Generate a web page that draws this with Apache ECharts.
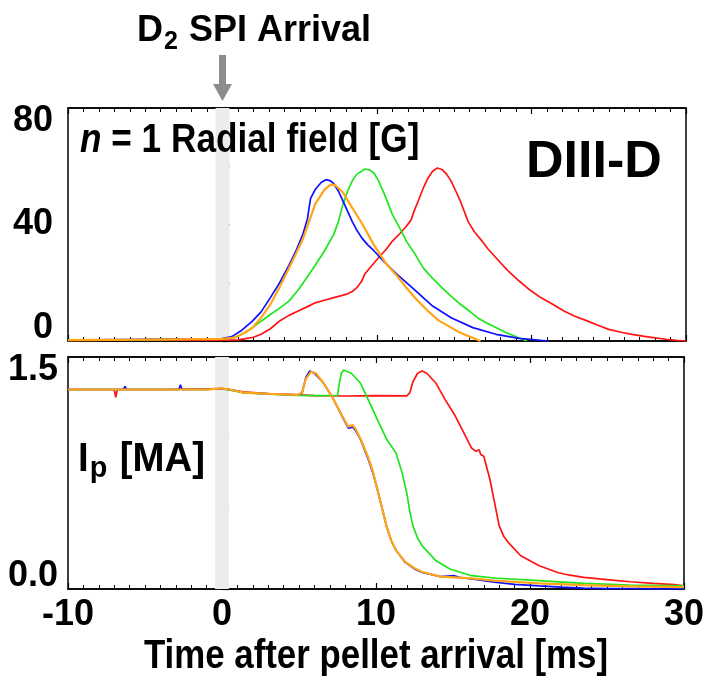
<!DOCTYPE html>
<html><head><meta charset="utf-8">
<script src="https://cdn.jsdelivr.net/npm/echarts@6/dist/echarts.min.js"></script>
<style>html,body{margin:0;padding:0;background:#fff}#c{width:707px;height:690px}</style>
</head><body><div id="c"></div>
<script>
// ---------- axes ----------
const xTicks = [-10, 0, 10, 20, 30];
const brTicks = [0, 20, 40, 60, 80];
const ipTicks = [0, 0.5, 1.0, 1.5];
const bandT = [-0.45, 0.45];   // gray band marking pellet arrival
const xTitle = 'Time after pellet arrival [ms]';

// ---------- n=1 radial field [G] ----------
const brBlueT = [-10, -5, 0, 0.6, 1.2, 1.95, 2.5, 3.1, 3.7, 4.3, 4.8, 5.2, 5.5, 5.7, 6.0, 6.4, 6.7, 7.0, 7.2, 7.5, 7.8, 8.1, 8.4, 8.7, 9.0, 9.4, 9.8, 10.5, 11.3, 12.4, 13.6, 14.8, 16.2, 17.7, 19.2, 20.6, 21.1];
const brBlue  = [0.3, 0.6, 0.8, 1.5, 3.5, 6.9, 10, 14.9, 20, 26, 31.5, 36.6, 42, 49, 52, 54.5, 55.4, 55, 54, 51.5, 48, 44.5, 41, 38, 35.5, 33, 31, 27, 22.9, 17.7, 12, 8, 4.6, 2.3, 0.9, 0.2, 0];

const brOrangeT = [-10, -5, 0, 0.8, 1.5, 1.95, 2.5, 3.1, 3.7, 4.3, 4.8, 5.2, 5.6, 6.0, 6.6, 7.0, 7.3, 7.8, 8.4, 9.0, 9.8, 10.6, 11.3, 11.9, 12.6, 13.3, 14.0, 14.8, 15.4, 15.9, 16.7];
const brOrange  = [0.3, 0.5, 0.7, 1.2, 3, 4.6, 8, 12.6, 18.5, 25, 30.5, 35, 41, 47, 52, 53.7, 53.5, 51, 45.7, 40.6, 33, 26.5, 22.3, 18.3, 14, 10.3, 7, 4.6, 2.8, 1.7, 0];

const brGreenT = [-10, -5, 0, 0.8, 1.3, 1.95, 2.5, 3.1, 3.7, 4.3, 4.9, 5.45, 6.0, 6.6, 7.2, 7.5, 7.8, 8.1, 8.4, 8.7, 9.0, 9.2, 9.5, 9.8, 10.1, 10.4, 10.7, 11.0, 11.5, 11.9, 12.5, 13.0, 13.6, 14.2, 14.8, 15.4, 16.0, 16.5, 17.1, 17.7, 18.3, 18.9, 19.7];
const brGreen  = [0.3, 0.5, 0.8, 1.3, 2.5, 4.6, 6.8, 9.1, 11.3, 13.7, 17.5, 21.7, 26, 30.9, 36.6, 41, 47, 51.5, 55, 57.3, 58.3, 59, 58.8, 57.7, 55, 51.4, 47.5, 43.4, 38.5, 34.3, 29.5, 25, 21.5, 18.3, 15.3, 12.6, 10.2, 8, 6.2, 4.6, 3, 1.7, 0];

const brRedT = [-10, -5, 0, 1.0, 1.5, 2.0, 2.5, 3.1, 3.7, 4.3, 4.9, 5.5, 6.0, 6.6, 7.2, 7.7, 8.1, 8.4, 8.7, 9.0, 9.2, 9.6, 10.1, 10.6, 11.0, 11.5, 11.9, 12.2, 12.4, 12.7, 13.0, 13.3, 13.6, 13.9, 14.2, 14.5, 14.8, 15.1, 15.4, 15.9, 16.3, 16.8, 17.2, 17.7, 18.4, 19.2, 19.9, 20.6, 21.4, 22.1, 22.8, 23.6, 24.3, 25.0, 25.8, 26.5, 27.3, 28.0, 28.7, 29.4, 30.0];
const brRed  = [0.2, 0.3, 0.3, 0.4, 0.8, 1.3, 2.3, 4.2, 6.9, 8.8, 10.3, 11.8, 13.1, 14, 14.9, 15.6, 16.2, 17, 18.3, 20.5, 22.9, 25.5, 28.6, 31.5, 34.3, 37, 39.4, 41.5, 44.6, 48.5, 52.6, 56, 58.3, 59.4, 58.9, 57.3, 54.9, 51.5, 48, 41, 37.5, 34.3, 31.5, 28.6, 24.5, 20.6, 17.5, 14.9, 12.5, 10.3, 8.5, 6.9, 5.4, 4, 3, 2.3, 1.6, 1.1, 0.6, 0.2, 0];

// ---------- plasma current Ip [MA] ----------
const ipBlueT = [-10, -8, -6.4, -6.3, -6.2, -4, -2.8, -2.7, -2.6, -1, 0, 0.5, 1.4, 3.1, 4.9, 5.2, 5.45, 5.7, 6.0, 6.6, 7.2, 7.8, 8.2, 8.5, 8.7, 9.0, 9.5, 9.8, 10.1, 10.4, 10.7, 11.0, 11.3, 11.9, 12.5, 13.0, 14.2, 15.1, 15.4, 16.2, 17.7, 19.0, 20.6, 22.0, 23.5, 25.0, 26.5, 28.0, 30.0];
const ipBlue  = [1.29, 1.29, 1.29, 1.31, 1.29, 1.29, 1.29, 1.32, 1.29, 1.29, 1.295, 1.29, 1.27, 1.262, 1.255, 1.266, 1.37, 1.41, 1.395, 1.33, 1.234, 1.116, 1.04, 1.047, 1.02, 0.966, 0.837, 0.75, 0.64, 0.52, 0.40, 0.31, 0.25, 0.172, 0.13, 0.107, 0.08, 0.086, 0.075, 0.065, 0.045, 0.03, 0.02, 0.012, 0.006, 0.003, 0.002, 0.001, 0.001];

const ipOrangeT = [-10, -5, -1, 0, 0.5, 1.4, 3.1, 4.9, 5.2, 5.45, 5.8, 6.1, 6.6, 7.2, 7.8, 8.2, 8.5, 8.7, 9.0, 9.5, 9.8, 10.1, 10.4, 10.7, 11.0, 11.3, 11.9, 12.5, 13.0, 14.2, 16.2, 17.7, 20.6, 23.5, 26.5, 30.0];
const ipOrange  = [1.29, 1.29, 1.29, 1.297, 1.29, 1.27, 1.262, 1.255, 1.27, 1.36, 1.405, 1.395, 1.33, 1.234, 1.12, 1.05, 1.06, 1.03, 0.97, 0.85, 0.76, 0.64, 0.52, 0.40, 0.31, 0.25, 0.175, 0.135, 0.11, 0.08, 0.069, 0.054, 0.036, 0.025, 0.017, 0.012];

const ipGreenT = [-10, -5, -1, 0, 1.4, 3.1, 4.9, 6.0, 7.0, 7.5, 7.6, 7.75, 7.9, 8.4, 9.0, 9.5, 10.1, 10.7, 11.3, 11.7, 12.0, 12.2, 12.4, 12.7, 13.0, 13.9, 14.8, 16.2, 17.7, 20.6, 23.5, 26.5, 30.0];
const ipGreen  = [1.29, 1.29, 1.29, 1.295, 1.27, 1.26, 1.252, 1.25, 1.25, 1.252, 1.32, 1.395, 1.416, 1.395, 1.33, 1.223, 1.094, 0.966, 0.88, 0.75, 0.62, 0.5, 0.408, 0.33, 0.279, 0.182, 0.129, 0.086, 0.071, 0.054, 0.036, 0.026, 0.02];

const ipRedT = [-10, -7.0, -6.9, -6.8, -4, 0, 1.4, 3.1, 4.9, 6, 8, 10, 12.0, 12.2, 12.4, 12.7, 13.0, 13.3, 13.9, 14.5, 15.1, 15.6, 16.2, 16.5, 16.7, 16.8, 17.0, 17.4, 17.7, 18.0, 18.3, 18.6, 19.4, 20.6, 21.8, 22.2, 22.6, 23.5, 25, 26.5, 28, 29.4, 30];
const ipRed  = [1.29, 1.29, 1.24, 1.29, 1.29, 1.295, 1.275, 1.262, 1.255, 1.25, 1.248, 1.25, 1.249, 1.27, 1.34, 1.395, 1.41, 1.395, 1.33, 1.223, 1.127, 1.03, 0.912, 0.89, 0.9, 0.87, 0.858, 0.708, 0.558, 0.408, 0.34, 0.30, 0.215, 0.15, 0.107, 0.097, 0.09, 0.075, 0.06, 0.047, 0.037, 0.028, 0.02];

// ---------- styling ----------
const C = { blue: '#1010ff', green: '#1ee61e', red: '#ff1414', orange: '#ffa516' };
const SANS = '"Liberation Sans",Arial,Helvetica,sans-serif';

function pairs(t, v) { return t.map((x, i) => [x, v[i]]); }

const chart = echarts.init(document.getElementById('c'), null, { renderer: 'canvas' });

const axisLine = { show: true, lineStyle: { color: '#000', width: 1.5 } };
function xAx(grid, pos, labels) {
  return {
    type: 'value', gridIndex: grid, position: pos, min: xTicks[0], max: xTicks[xTicks.length - 1], interval: 10,
    axisLine: axisLine,
    axisTick: { show: true, inside: true, length: 6, lineStyle: { color: '#000', width: 1.2 } },
    minorTick: { show: true, splitNumber: 10, length: 4, lineStyle: { color: '#000', width: 1 } },
    splitLine: { show: false }, minorSplitLine: { show: false },
    axisLabel: labels ? { show: true, color: '#000', fontFamily: SANS, fontWeight: 'bold', fontSize: 36, margin: 8 } : { show: false }
  };
}
function yLabel(margin, fmt) {
  return { color: '#000', fontFamily: SANS, fontWeight: 'bold', fontSize: 36, lineHeight: 26, margin,
    verticalAlignMinLabel: 'bottom', verticalAlignMaxLabel: 'top', formatter: fmt };
}

const lineS = (name, x, y, data, color, w) => ({
  name, type: 'line', xAxisIndex: x, yAxisIndex: y, data, showSymbol: false, symbol: 'none',
  lineStyle: { color, width: w }, itemStyle: { color }, animation: false, silent: true, z: 10
});
const bandS = (x, y) => ({
  type: 'custom', xAxisIndex: x, yAxisIndex: y, z: 1, silent: true, clip: false,
  data: [bandT],
  renderItem: (params, api) => {
    const cs = params.coordSys;
    const a = api.coord([api.value(0), 0]);
    const b = api.coord([api.value(1), 0]);
    return { type: 'rect', shape: { x: a[0], y: cs.y, width: b[0] - a[0], height: cs.height }, style: { fill: '#ececec' } };
  }
});

const option = {
  animation: false,
  backgroundColor: '#fff',
  grid: [
    { left: 68, top: 108, width: 618, height: 233, show: true, borderColor: '#000', borderWidth: 1.5, backgroundColor: 'transparent' },
    { left: 68, top: 357, width: 618, height: 232, show: true, borderColor: '#000', borderWidth: 1.5, backgroundColor: 'transparent' }
  ],
  xAxis: [xAx(0, 'bottom', false), xAx(0, 'top', false), xAx(1, 'bottom', true), xAx(1, 'top', false)],
  yAxis: [
    { type: 'value', gridIndex: 0, min: brTicks[0], max: brTicks[brTicks.length - 1], interval: 20,
      axisLine: axisLine, axisTick: { inside: true, length: 7, lineStyle: { color: '#000', width: 1.2 } },
      splitLine: { show: false },
      axisLabel: yLabel(15, v => (v % 40 === 0 ? String(v) : '')) },
    { type: 'value', gridIndex: 1, min: ipTicks[0], max: ipTicks[ipTicks.length - 1], interval: 0.5,
      axisLine: axisLine, axisTick: { inside: true, length: 7, lineStyle: { color: '#000', width: 1.2 } },
      splitLine: { show: false },
      axisLabel: yLabel(10, v => (v === 0 || v === 1.5 ? v.toFixed(1) : '')) }
  ],
  series: [
    bandS(0, 0),
    bandS(2, 1),
    lineS('red', 0, 0, pairs(brRedT, brRed), C.red, 1.7),
    lineS('green', 0, 0, pairs(brGreenT, brGreen), C.green, 1.7),
    lineS('blue', 0, 0, pairs(brBlueT, brBlue), C.blue, 1.7),
    lineS('orange', 0, 0, pairs(brOrangeT, brOrange), C.orange, 2.2),
    lineS('red', 2, 1, pairs(ipRedT, ipRed), C.red, 1.7),
    lineS('green', 2, 1, pairs(ipGreenT, ipGreen), C.green, 1.7),
    lineS('blue', 2, 1, pairs(ipBlueT, ipBlue), C.blue, 1.7),
    lineS('orange', 2, 1, pairs(ipOrangeT, ipOrange), C.orange, 2.2)
  ]
};
chart.setOption(option);

// annotations placed relative to the axes
const px0 = chart.convertToPixel({ xAxisIndex: 0 }, 0);
const pxMid = chart.convertToPixel({ xAxisIndex: 2 }, (xTicks[0] + xTicks[xTicks.length - 1]) / 2);
chart.setOption({
  graphic: [
    { type: 'rect', z: 100, shape: { x: px0 - 3.5, y: 55, width: 7, height: 31 }, style: { fill: '#8c8c8c' }, silent: true },
    { type: 'polygon', z: 100, shape: { points: [[px0 - 9.5, 84], [px0 + 9.5, 84], [px0, 101]] }, style: { fill: '#8c8c8c' }, silent: true },
    { type: 'text', z: 100, x: 137, y: 13, silent: true,
      style: { text: '{m|D}{s|2}{m| SPI Arrival}', fill: '#000',
        rich: { m: { fontFamily: SANS, fontWeight: 'bold', fontSize: 36, lineHeight: 42, verticalAlign: 'top' },
                s: { fontFamily: SANS, fontWeight: 'bold', fontSize: 25, lineHeight: 25, verticalAlign: 'bottom', padding: [0, 1, 0, 1] } } } },
    { type: 'text', z: 100, x: 80, y: 121, scaleX: 0.88, silent: true,
      style: { text: '{i|n}{r| = 1 Radial field [G]}', fill: '#000',
        rich: { i: { fontFamily: SANS, fontStyle: 'italic', fontWeight: 'bold', fontSize: 40 },
                r: { fontFamily: SANS, fontWeight: 'bold', fontSize: 40 } } } },
    { type: 'text', z: 100, x: 526, y: 137, silent: true,
      style: { text: 'DIII-D', fill: '#000', fontFamily: SANS, fontWeight: 'bold', fontSize: 52 } },
    { type: 'text', z: 100, x: 78, y: 440, scaleX: 0.96, silent: true,
      style: { text: '{m|I}{s|p}{m| [MA]}', fill: '#000',
        rich: { m: { fontFamily: SANS, fontWeight: 'bold', fontSize: 40, lineHeight: 44, verticalAlign: 'top' },
                s: { fontFamily: SANS, fontWeight: 'bold', fontSize: 30, lineHeight: 30, verticalAlign: 'bottom', padding: [0, 2, 0, 1] } } } },
    { type: 'text', z: 100, x: pxMid, y: 636, scaleX: 0.85, silent: true,
      style: { text: xTitle, fill: '#000', fontFamily: SANS, fontWeight: 'bold', fontSize: 41, align: 'center', verticalAlign: 'top' } }
  ]
});
</script>
</body></html>
